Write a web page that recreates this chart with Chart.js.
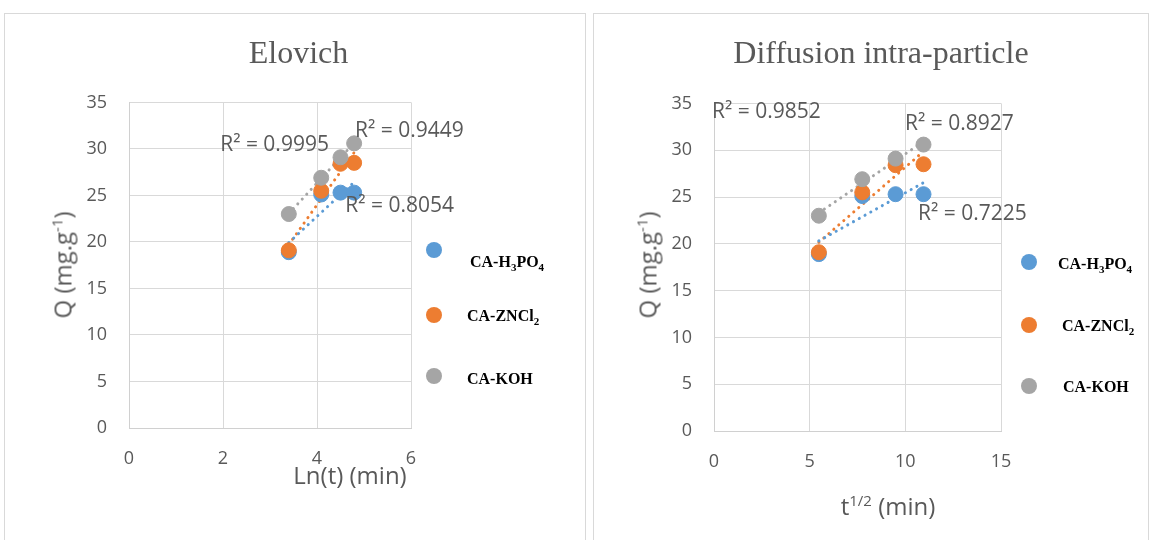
<!DOCTYPE html>
<html>
<head>
<meta charset="UTF-8">
<title>Elovich / Diffusion intra-particle</title>
<script src="https://cdn.jsdelivr.net/npm/chart.js"></script>
<style>
  body { margin: 0; width: 1152px; height: 540px; overflow: hidden; background: #fff; position: relative; font-family: 'Open Sans', sans-serif; }
  .panel { position: absolute; top: 13px; height: 540px; border: 1px solid #d9d9d9; box-sizing: border-box; }
  canvas { position: absolute; }
  .ytitle { position: absolute; color: #595959; font-size: 24px; white-space: nowrap; transform: translate(-50%, -50%) rotate(-90deg); }
  .xtitle { position: absolute; color: #595959; font-size: 24px; white-space: nowrap; transform: translate(-50%, -50%); }
  .ytitle sup, .xtitle sup { font-size: 15px; }
  .leg { position: absolute; font-family: 'Liberation Serif', serif; font-weight: bold; font-size: 16px; color: #000; white-space: nowrap; transform: translateY(-50%); }
  .leg sub { font-size: 11px; }
  .dot { position: absolute; width: 16px; height: 16px; border-radius: 50%; transform: translate(-50%, -50%); }
</style>
</head>
<body>

<div class="panel" style="left:4px;width:582px"></div>
<div class="panel" style="left:593px;width:556px"></div>

<canvas id="graficoElovich" width="581" height="527" style="left:4px;top:13px"></canvas>
<canvas id="graficoDiffusion" width="555" height="527" style="left:593px;top:13px"></canvas>

<div class="ytitle" style="left:62px;top:265px">Q (mg.g<sup>-1</sup>)</div>
<div class="xtitle" style="left:350px;top:474px">Ln(t) (min)</div>
<div class="ytitle" style="left:647px;top:265px">Q (mg.g<sup>-1</sup>)</div>
<div class="xtitle" style="left:888px;top:505px">t<sup>1/2</sup> (min)</div>

<div id="legendas"></div>

<script>
// series
const serieNomes = ['CA-H<sub>3</sub>PO<sub>4</sub>', 'CA-ZNCl<sub>2</sub>', 'CA-KOH'];
const cores = ['#5B9BD5', '#ED7D31', '#A5A5A5'];

// x values (t = 30, 60, 90, 120 min)
const lnT = [3.40, 4.09, 4.50, 4.79];
const raizT = [5.48, 7.75, 9.49, 10.95];

// Q values
const qH3PO4 = [18.9, 25.1, 25.3, 25.3];
const qZnCl2 = [19.1, 25.5, 28.4, 28.5];
const qKOH = [23.0, 26.9, 29.1, 30.6];

// R² shown on the trendlines
const r2Elovich = ['0.8054', '0.9449', '0.9995'];
const r2Diffusion = ['0.7225', '0.8927', '0.9852'];

const series = [qH3PO4, qZnCl2, qKOH];

function regressao(xs, ys) {
    const n = xs.length;
    let sx = 0, sy = 0, sxy = 0, sxx = 0;
    for (let i = 0; i < n; i++) {
        sx += xs[i]; sy += ys[i]; sxy += xs[i] * ys[i]; sxx += xs[i] * xs[i];
    }
    const m = (n * sxy - sx * sy) / (n * sxx - sx * sx);
    const b = (sy - m * sx) / n;
    return { m: m, b: b };
}

function montarDatasets(xs) {
    const ds = [];
    series.forEach(function (ys, i) {
        ds.push({
            type: 'scatter',
            data: xs.map(function (x, j) { return { x: x, y: ys[j] }; }),
            backgroundColor: cores[i],
            borderColor: cores[i],
            pointRadius: 7.5,
            pointHoverRadius: 7.5,
            order: 3 - i
        });
        const r = regressao(xs, ys);
        const x0 = Math.min.apply(null, xs), x1 = Math.max.apply(null, xs);
        ds.push({
            type: 'line',
            data: [{ x: x0, y: r.m * x0 + r.b }, { x: x1, y: r.m * x1 + r.b }],
            borderColor: cores[i],
            borderWidth: 3,
            borderDash: [0.1, 6.5],
            borderCapStyle: 'round',
            pointRadius: 0,
            fill: false,
            order: 10 + i
        });
    });
    return ds;
}

// draws "R² = ..." texts at data positions
const rotulosR2 = {
    id: 'rotulosR2',
    afterDatasetsDraw(chart, args, opts) {
        const ctx = chart.ctx;
        ctx.save();
        ctx.font = '21px "Open Sans"';
        ctx.fillStyle = '#595959';
        ctx.textAlign = 'left';
        ctx.textBaseline = 'middle';
        opts.itens.forEach(function (it) {
            const px = chart.scales.x.getPixelForValue(it.x);
            const py = chart.scales.y.getPixelForValue(it.y);
            ctx.fillText('R² = ' + it.texto, px, py);
        });
        ctx.restore();
    }
};

// yW / rW: room left and right of the plot (legend sits on the right)
function opcoes(titulo, xMax, xStep, pad, yW, rW, titPad, r2Itens) {
    return {
        responsive: false,
        animation: false,
        layout: { padding: pad },
        plugins: {
            legend: { display: false },
            tooltip: { enabled: false },
            title: {
                display: true,
                text: titulo,
                color: '#595959',
                font: { family: 'Liberation Serif', size: 32, weight: 'normal' },
                padding: titPad
            },
            rotulosR2: { itens: r2Itens }
        },
        scales: {
            x: {
                type: 'linear',
                min: 0, max: xMax,
                afterFit: function (s) { s.height = 60; },
                ticks: { stepSize: xStep, color: '#595959', font: { family: 'Open Sans', size: 18 }, padding: 20 },
                grid: { color: '#d9d9d9', drawTicks: false },
                border: { color: '#d0d0d0' }
            },
            y: {
                min: 0, max: 35,
                afterFit: function (s) { s.width = yW; },
                ticks: { stepSize: 5, color: '#595959', font: { family: 'Open Sans', size: 18 }, padding: 22 },
                grid: { color: '#d9d9d9', drawTicks: false },
                border: { color: '#d0d0d0' }
            },
            espaco: {
                position: 'right',
                min: 0, max: 1,
                afterFit: function (s) { s.width = rW; },
                ticks: { display: false },
                grid: { display: false },
                border: { display: false }
            }
        }
    };
}

new Chart(document.getElementById('graficoElovich'), {
    type: 'scatter',
    data: { datasets: montarDatasets(lnT) },
    options: opcoes('Elovich', 6, 2,
        { left: 8, right: 0, top: 0, bottom: 52 }, 117, 174,
        { top: 22, bottom: 29 },
        [
            { x: 4.60, y: 23.9, texto: r2Elovich[0] },
            { x: 4.81, y: 31.9, texto: r2Elovich[1] },
            { x: 1.94, y: 30.4, texto: r2Elovich[2] }
        ]),
    plugins: [rotulosR2]
});

new Chart(document.getElementById('graficoDiffusion'), {
    type: 'scatter',
    data: { datasets: montarDatasets(raizT) },
    options: opcoes('Diffusion intra-particle', 15, 5,
        { left: 21, right: 0, top: 0, bottom: 49 }, 100, 147,
        { top: 22, bottom: 30 },
        [
            { x: 10.66, y: 23.2, texto: r2Diffusion[0] },
            { x: 9.98, y: 32.8, texto: r2Diffusion[1] },
            { x: -0.10, y: 34.05, texto: r2Diffusion[2] }
        ]),
    plugins: [rotulosR2]
});

// legends (html, for the subscripts)
const posLegenda = [
    { dotX: 434, dots: [250, 315, 376], txt: [[470, 263], [467, 317], [467, 379]] },
    { dotX: 1029, dots: [262, 325, 386], txt: [[1058, 265], [1062, 327], [1063, 387]] }
];
const legendas = document.getElementById('legendas');
posLegenda.forEach(function (p) {
    serieNomes.forEach(function (nome, i) {
        const d = document.createElement('div');
        d.className = 'dot';
        d.style.left = p.dotX + 'px';
        d.style.top = p.dots[i] + 'px';
        d.style.background = cores[i];
        legendas.appendChild(d);
        const t = document.createElement('div');
        t.className = 'leg';
        t.style.left = p.txt[i][0] + 'px';
        t.style.top = p.txt[i][1] + 'px';
        t.innerHTML = nome;
        legendas.appendChild(t);
    });
});
</script>
</body>
</html>
